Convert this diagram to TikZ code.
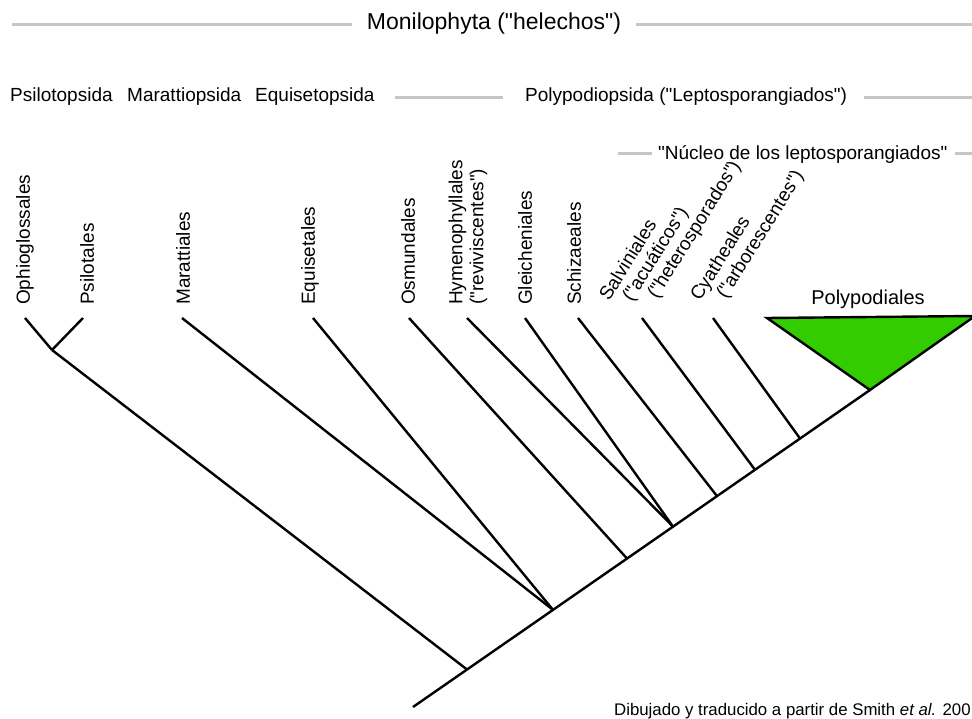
\documentclass[tikz,border=0pt]{standalone}
\usepackage{fontspec}
\setmainfont{Liberation Sans}[Ligatures=TeXOff]
\definecolor{verde}{RGB}{51,204,0}
\definecolor{gris}{RGB}{198,198,198}
\tikzset{
  rama/.style={line width=2.4pt},
  barra/.style={line width=3pt, gris},
  grupo/.style={inner sep=0pt, anchor=base west, font=\fontsize{19}{21}\selectfont},
  orden/.style={rotate=90, anchor=west, inner sep=0pt, align=left, font=\fontsize{19}{21}\selectfont},
  ordenb/.style={rotate=58, anchor=base west, inner sep=0pt, font=\fontsize{19}{21}\selectfont},
}
\begin{document}
\begin{tikzpicture}[x=1pt,y=-1pt]
\useasboundingbox (0,0) rectangle (972,719);

% grupos de arriba
\node[inner sep=0pt, anchor=base, font=\fontsize{23}{26}\selectfont] (moni) at (494,30) {Monilophyta ("helechos")};
\coordinate (moniL) at (12,25);
\coordinate (moniR) at (972,25);
\draw[barra] (moniL) -- ([xshift=-15pt]moniL -| moni.west);
\draw[barra] ([xshift=15pt]moni.east |- moniR) -- (moniR);

\node[grupo] (psilo) at (10,102) {Psilotopsida};
\node[grupo] (maratt) at (127,102) {Marattiopsida};
\node[grupo] (equiset) at (255,102) {Equisetopsida};
\node[grupo] (polyp) at (525,102) {Polypodiopsida ("Leptosporangiados")};
\coordinate (polypL) at (395,98);
\coordinate (polypR) at (972,98);
\draw[barra] (polypL) -- ([xshift=-22pt]polypL -| polyp.west);
\draw[barra] ([xshift=17pt]polyp.east |- polypR) -- (polypR);

\node[grupo] (nucleo) at (658,160) {"Núcleo de los leptosporangiados"};
\coordinate (nucleoL) at (618,154);
\coordinate (nucleoR) at (972,154);
\draw[barra] (nucleoL) -- ([xshift=-6pt]nucleoL -| nucleo.west);
\draw[barra] ([xshift=7pt]nucleo.east |- nucleoR) -- (nucleoR);

% ordenes
\node[orden] (ophio) at (25,305) {Ophioglossales};
\node[orden] (psilot) at (87,305) {Psilotales};
\node[orden] (marat) at (183,305) {Marattiales};
\node[orden] (equi) at (310,305) {Equisetales};
\node[orden] (osmu) at (408,305) {Osmundales};
\node[orden] (hyme) at (468,305) {Hymenophyllales\\("reviviscentes")};
\node[orden] (glei) at (525,305) {Gleicheniales};
\node[orden] (schi) at (574,305) {Schizaeales};
\node[ordenb] (salv) at (609,302) {Salviniales};
\node[ordenb] (acua) at (632,303) {("acuáticos")};
\node[ordenb] (hete) at (657,300) {("heterosporados")};
\node[ordenb] (cyat) at (700,302) {Cyatheales};
\node[ordenb] (arbo) at (726,300) {("arborescentes")};
\node[inner sep=0pt, anchor=base, font=\fontsize{20}{22}\selectfont] (polyd) at (868,305) {Polypodiales};

% puntas y nodos del arbol
\coordinate (tOph) at (25,318);
\coordinate (tPsi) at (83,318);
\coordinate (jOP) at (52,350);
\coordinate (tMar) at (182,318);
\coordinate (tEqu) at (313,318);
\coordinate (tOsm) at (409,318);
\coordinate (tHym) at (467,318);
\coordinate (tGle) at (525,318);
\coordinate (tSch) at (578,318);
\coordinate (tSal) at (642,318);
\coordinate (tCya) at (713,318);
\coordinate (raiz) at (413,707);
\coordinate (n1) at (467,669.5);
\coordinate (n2) at (553,609.9);
\coordinate (n3) at (627,558.5);
\coordinate (n4) at (673,526.6);
\coordinate (n5) at (717,496.1);
\coordinate (n6) at (755,469.8);
\coordinate (n7) at (800,438.5);
\coordinate (pA) at (870,390);
\coordinate (pL) at (767,318);
\coordinate (pR) at (975,316);

\filldraw[rama, fill=verde] (pL) -- (pR) -- (pA) -- cycle; %Polypodiales
\draw[rama] (raiz) -- (pA); %eje
\draw[rama] (tOph) -- (jOP);
\draw[rama] (tPsi) -- (jOP);
\draw[rama] (jOP) -- (n1);
\draw[rama] (tMar) -- (n2);
\draw[rama] (tEqu) -- (n2);
\draw[rama] (tOsm) -- (n3);
\draw[rama] (tHym) -- (n4);
\draw[rama] (tGle) -- (n4);
\draw[rama] (tSch) -- (n5);
\draw[rama] (tSal) -- (n6);
\draw[rama] (tCya) -- (n7);

\node[inner sep=0pt, anchor=base west, font=\fontsize{16.8}{19}\selectfont] (fuente) at (614,715) {Dibujado y traducido a partir de Smith \textit{et al.} 200};
\end{tikzpicture}
\end{document}
